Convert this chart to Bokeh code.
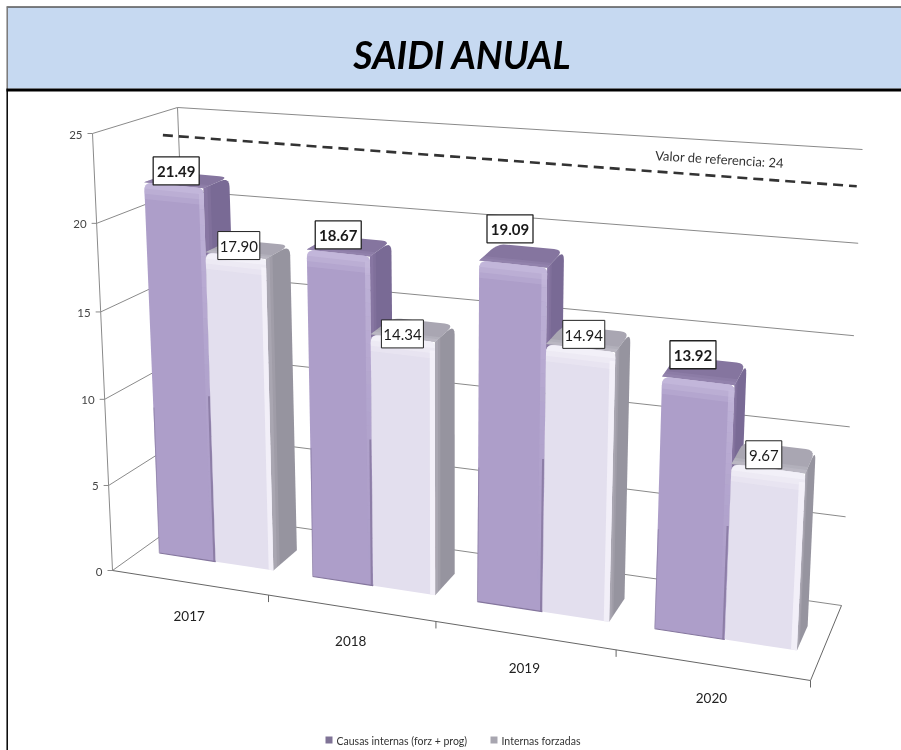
import numpy as np
from bokeh.plotting import figure
from bokeh.models import Range1d
from bokeh.core.properties import value
from bokeh.embed import file_html
from bokeh.resources import INLINE

# ---- data ----
years = ["2017", "2018", "2019", "2020"]
causas_internas = [21.49, 18.67, 19.09, 13.92]
internas_forzadas = [17.90, 14.34, 14.94, 9.67]
y_ticks = [0, 5, 10, 15, 20, 25]
referencia = 24
title = "SAIDI ANUAL"
ref_label = "Valor de referencia: 24"
legend_labels = ["Causas internas (forz + prog)", "Internas forzadas"]

# ---- 3D camera: screen position of the eight corners of the chart box ----
CORNERS = {
    (0, 0, 0): (112, 570), (1, 0, 0): (810, 680),
    (0, 1, 0): (193, 512), (1, 1, 0): (841, 605),
    (0, 0, 1): (92, 133),  (1, 0, 1): (835, 215),
    (0, 1, 1): (177, 107), (1, 1, 1): (862, 149),
}
W_MAX = 25.0
U_MAX = 4.0
BAR_SCALE = 1.015


def warp(t, a):
    return a * t / (1 + (a - 1) * t)


def proj(u, v, w):
    tu = warp(u / U_MAX, 0.8635)
    tw = warp(w / W_MAX, 0.966)
    x = y = 0.0
    for (i, j, k), (cx, cy) in CORNERS.items():
        c = (tu if i else 1 - tu) * (v if j else 1 - v) * (tw if k else 1 - tw)
        x += c * cx
        y += c * cy
    return x, y


def rounded(points, radii):
    """Polygon in screen space with quadratic rounded corners."""
    pts = [np.array(q, float) for q in points]
    n = len(pts)
    out = []
    for i in range(n):
        q, a, b = pts[i], pts[i - 1], pts[(i + 1) % n]
        r = radii[i]
        if r <= 0:
            out.append(q)
            continue
        d1 = (a - q) / np.linalg.norm(a - q)
        d2 = (b - q) / np.linalg.norm(b - q)
        s, e = q + d1 * r, q + d2 * r
        for t in np.linspace(0, 1, 6):
            out.append((1 - t) ** 2 * s + 2 * t * (1 - t) * q + t ** 2 * e)
    return [q[0] for q in out], [q[1] for q in out]


p = figure(width=901, height=750, output_backend="svg", toolbar_location=None,
           x_range=Range1d(0, 901), y_range=Range1d(750, 0),
           x_axis_location=None, y_axis_location=None, min_border=0,
           outline_line_color=None, background_fill_color="white")
p.grid.visible = False
p.styles = {"position": "fixed", "left": "0px", "top": "0px"}

FONT = value("Lato")

# ---- page panel ----
p.quad(left=7, right=901, top=7, bottom=88, fill_color="#C6D9F1", line_color=None)
p.line([6, 901], [6.5, 6.5], line_color="black", line_width=1)
p.line([6, 901], [89.5, 89.5], line_color="black", line_width=3)
p.line([6.7, 6.7], [7, 88], line_color="#777777", line_width=1.5)
p.line([6.7, 6.7], [88, 750], line_color="black", line_width=1.5)
p.text([462], [54], text=[title], text_font=FONT, text_font_size="37.5px",
       text_font_style="bold italic", text_align="center", text_baseline="middle",
       text_color="black")

# ---- walls and gridlines ----
GRID = "#8a8a8a"
for w in y_ticks:
    a, b, c = proj(0, 0, w), proj(0, 1, w), proj(U_MAX, 1, w)
    p.line([a[0], b[0], c[0]], [a[1], b[1], c[1]], line_color=GRID, line_width=1)
    t = proj(0, 0, w)
    p.line([t[0] - 5, t[0]], [t[1], t[1]], line_color=GRID, line_width=1)
    p.text([t[0] - 10], [t[1] + 1], text=[str(w)], text_font=FONT, text_font_size="11.5px",
           text_align="right", text_baseline="middle", text_color="#444444")

a, b = proj(0, 0, 0), proj(0, 0, W_MAX)
p.line([a[0], b[0]], [a[1], b[1]], line_color=GRID, line_width=1)
a, b = proj(0, 1, 0), proj(0, 1, W_MAX)
p.line([a[0], b[0]], [a[1], b[1]], line_color=GRID, line_width=1)

# floor front + right edges
a, b, c = proj(0, 0, 0), proj(U_MAX, 0, 0), proj(U_MAX, 1, 0)
p.line([a[0], b[0], c[0]], [a[1], b[1], c[1]], line_color="#666666", line_width=1)
for i in range(1, 5):
    t = proj(i, 0, 0)
    p.line([t[0], t[0]], [t[1], t[1] + 7], line_color="#666666", line_width=1)

# ---- reference line ----
r0, r1 = proj(0, 0.82, referencia), proj(U_MAX, 0.82, referencia)
REF_SHIFT = 6
p.line([r0[0], r1[0]], [r0[1] + REF_SHIFT, r1[1] + REF_SHIFT], line_color="#333333",
       line_width=2.6, line_dash="10 6")
p.text([719], [158.5], text=[ref_label], text_font=FONT, text_font_size="13px",
       angle=-0.06, text_align="center", text_baseline="middle", text_color="#333333")

# ---- bars ----
V0, V1 = 0.35, 0.68
BAR_W = 0.375
MARGIN = 0.125
DARK = dict(front="#AD9EC9", bevel="#C6BBDD", side="#796A95", top="#85759F",
            edge="#84769D", shine="#9A8AB4")
LIGHT = dict(front="#E3DFEE", bevel="#F5F3FA", side="#96949F", top="#A9A6B2",
             edge="#E3DFEE", shine="#C4C2CC")


def bar(u0, u1, val, c):
    h = val * BAR_SCALE
    fl, fr = proj(u0, V0, 0), proj(u1, V0, 0)
    tl, tr = proj(u0, V0, h), proj(u1, V0, h)
    bl, br = proj(u0, V1, h), proj(u1, V1, h)
    br0 = proj(u1, V1, 0)
    # top and side faces, rounded outside
    x, y = rounded([tl, bl, br, tr], [0, 9, 10, 0])
    p.patch(x, y, fill_color=c["top"], line_color=None)
    x, y = rounded([fr, tr, br, br0], [0, 0, 10, 0])
    p.patch(x, y, fill_color=c["side"], line_color=None)
    # soft rounded front edge on top and side
    for k, al in zip([0.09, 0.05], [0.35, 0.45]):
        a0, a1 = proj(u0, V0 + k, h), proj(u1, V0 + k, h)
        p.patch([tl[0], a0[0], a1[0], tr[0]], [tl[1], a0[1], a1[1], tr[1]],
                fill_color=c["shine"], fill_alpha=al, line_color=None)
        b0, b1 = proj(u1, V0 + k, 0), proj(u1, V0 + k, h)
        p.patch([fr[0], b0[0], b1[0], tr[0]], [fr[1], b0[1], b1[1], tr[1]],
                fill_color=c["shine"], fill_alpha=al * 0.6, line_color=None)
    # front face
    x, y = rounded([fl, tl, tr, fr], [2, 9, 6, 1])
    p.patch(x, y, fill_color=c["front"], line_color=None)
    # bevel: soft highlight along the top
    for d, al in zip([0.95, 0.65, 0.35], [0.3, 0.4, 0.6]):
        il, ir = proj(u0, V0, h - d), proj(u1, V0, h - d)
        x, y = rounded([il, tl, tr, ir], [0, 8, 6, 0])
        p.patch(x, y, fill_color=c["bevel"], fill_alpha=al, line_color=None)
    # bevel: highlight along the right edge, fading downwards
    if c is DARK:
        steps = 24
        for s in range(steps):
            hi = (h - 0.3) * (1 - s / steps)
            lo = (h - 0.3) * (1 - (s + 1) / steps)
            q0, q1 = proj(u1 - 0.03, V0, hi), proj(u1, V0, hi)
            q2, q3 = proj(u1, V0, lo), proj(u1 - 0.03, V0, lo)
            p.patch([q0[0], q1[0], q2[0], q3[0]], [q0[1], q1[1], q2[1], q3[1]],
                    fill_color=c["bevel"], fill_alpha=0.7 * (1 - s / steps) ** 2,
                    line_color=None)
        p.line([fl[0], fr[0]], [fl[1], fr[1]], line_color=c["edge"], line_width=1.2)
        m, n = proj(u1 - 0.008, V0, h * 0.45), proj(u1 - 0.008, V0, 0)
        p.line([m[0], n[0]], [m[1], n[1]], line_color=c["edge"], line_width=2, line_alpha=0.8)
        m, n = proj(u0 + 0.004, V0, h * 0.4), fl
        p.line([m[0], n[0]], [m[1], n[1]], line_color=c["edge"], line_width=1, line_alpha=0.6)
    else:
        q0, q1 = proj(u1 - 0.03, V0, h - 0.5), proj(u1, V0, h - 0.5)
        q2, q3 = fr, proj(u1 - 0.03, V0, 0)
        p.patch([q0[0], q1[0], q2[0], q3[0]], [q0[1], q1[1], q2[1], q3[1]],
                fill_color=c["bevel"], fill_alpha=0.8, line_color=None)


for i, (d, l) in enumerate(zip(causas_internas, internas_forzadas)):
    bar(i + MARGIN, i + MARGIN + BAR_W, d, DARK)
    bar(i + MARGIN + BAR_W, i + MARGIN + 2 * BAR_W, l, LIGHT)

# ---- value labels ----
LABEL_OFFSETS_D = [(-9.5, -9.5), (-10, -11.5), (-11, -27.5), (-11, -16.5)]
LABEL_OFFSETS_L = [(-8, -4), (-9.5, 3.5), (-4, -5), (-9.5, -3.5)]
LABEL_HALF_W_L = [21, 21, 21, 18]


def label(i, val, off, bold, k, hw):
    c = proj(i + MARGIN + BAR_W * (k + 0.5), 0.5, val * BAR_SCALE)
    cx, cy = c[0] + off[0], c[1] + off[1]
    hh = 14
    p.quad(left=cx - hw, right=cx + hw, top=cy - hh, bottom=cy + hh, fill_color="white",
           line_color="#222222", line_width=1.3 if bold else 1)
    p.text([cx], [cy + 1], text=["%.2f" % val], text_font=FONT, text_font_size="15px",
           text_font_style="bold" if bold else "normal", text_align="center",
           text_baseline="middle", text_color="#1a1a1a")


for i, (d, l) in enumerate(zip(causas_internas, internas_forzadas)):
    label(i, d, LABEL_OFFSETS_D[i], True, 0, 23)
    label(i, l, LABEL_OFFSETS_L[i], False, 1, LABEL_HALF_W_L[i])

# ---- category labels ----
for i, yr in enumerate(years):
    t = proj(i + 0.5, 0, 0)
    p.text([t[0]], [t[1] + 33], text=[yr], text_font=FONT, text_font_size="13.5px",
           text_align="center", text_baseline="middle", text_color="#222222")

# ---- legend ----
LEG_X = [325, 490]
for lx, lab, col in zip(LEG_X, legend_labels, ["#7F7396", "#A8A6B0"]):
    p.quad(left=lx, right=lx + 7, top=736, bottom=743, fill_color=col, line_color=None)
    p.text([lx + 11], [740], text=[lab], text_font=FONT, text_font_size="10.5px",
           text_align="left", text_baseline="middle", text_color="#333333")

open("out.html", "w").write(file_html(p, INLINE))
